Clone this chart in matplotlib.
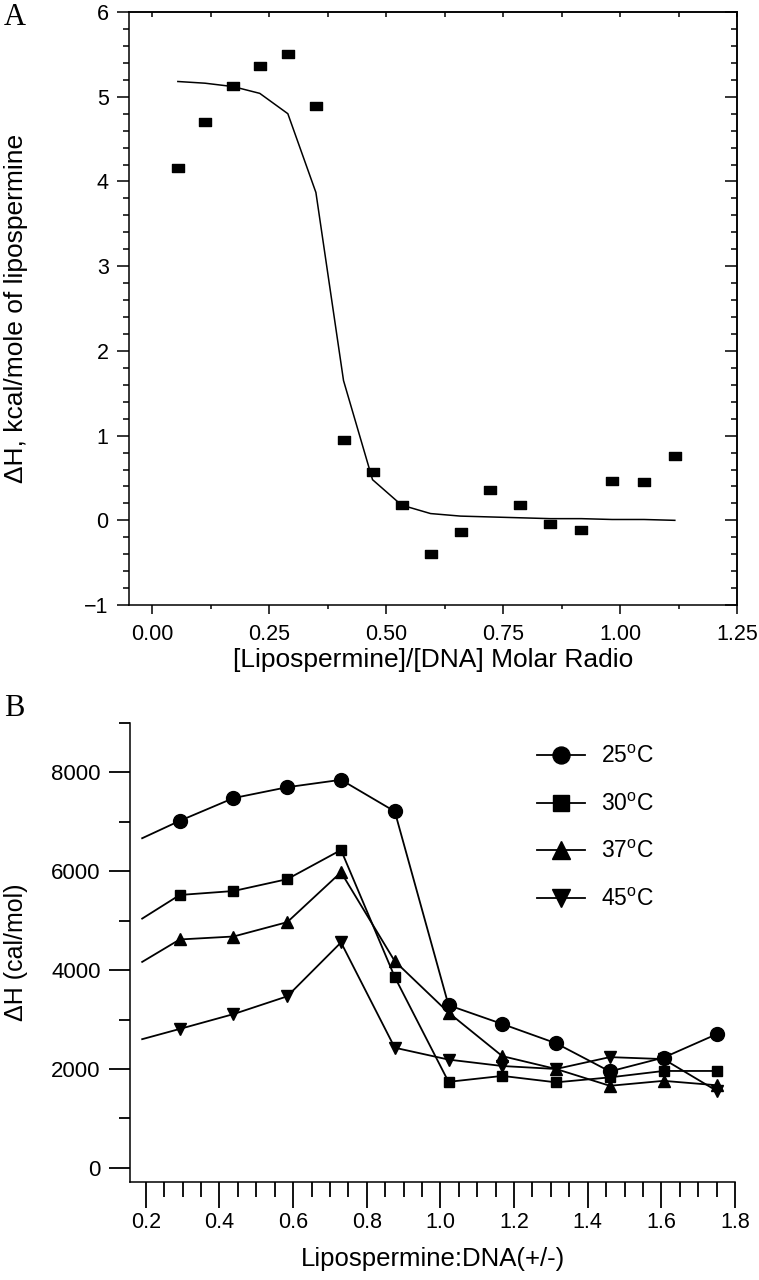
import matplotlib
matplotlib.use("Agg")
import matplotlib.pyplot as plt
from matplotlib.ticker import MultipleLocator
from matplotlib.path import Path

plt.rcParams['font.family'] = ['Liberation Sans', 'DejaVu Sans']
plt.rcParams['mathtext.fontset'] = 'custom'
plt.rcParams['mathtext.rm'] = 'Liberation Sans'
plt.rcParams['axes.linewidth'] = 1.1

# panel A - titration enthalpy per injection
ratio_a = [0.055, 0.113, 0.173, 0.230, 0.290, 0.350, 0.409, 0.471, 0.533,
           0.595, 0.659, 0.723, 0.787, 0.851, 0.917, 0.983, 1.051, 1.117]
dh_a = [4.16, 4.70, 5.13, 5.36, 5.51, 4.89, 0.95, 0.57, 0.18,
        -0.40, -0.14, 0.36, 0.18, -0.04, -0.11, 0.47, 0.45, 0.76]
fit_a = [5.18, 5.16, 5.12, 5.04, 4.80, 3.87, 1.65, 0.48, 0.18,
         0.08, 0.05, 0.04, 0.03, 0.02, 0.02, 0.01, 0.01, 0.0]

# panel B - enthalpy vs charge ratio at 4 temperatures
ratio_b = [0.19, 0.292, 0.438, 0.584, 0.730, 0.876, 1.022, 1.168, 1.314, 1.460, 1.606, 1.752]
dh_25 = [6668, 7020, 7480, 7700, 7850, 7210, 3290, 2910, 2520, 1950, 2230, 2710]
dh_30 = [5042, 5520, 5600, 5840, 6430, 3860, 1740, 1860, 1730, 1830, 1960, 1960]
dh_37 = [4166, 4620, 4680, 4970, 5980, 4180, 3140, 2260, 2000, 1660, 1760, 1670]
dh_45 = [2603, 2810, 3110, 3470, 4560, 2430, 2190, 2060, 2000, 2240, 2200, 1550]
temps = ['25', '30', '37', '45']

rect = Path([(-1, -0.6), (1, -0.6), (1, 0.6), (-1, 0.6), (-1, -0.6)],
            [Path.MOVETO, Path.LINETO, Path.LINETO, Path.LINETO, Path.CLOSEPOLY])

fig = plt.figure(figsize=(7.59, 12.8), dpi=100)

# ---------------- A ----------------
ax1 = fig.add_axes([0.1696, 0.5273, 0.8015, 0.4633])
ax1.plot(ratio_a, fit_a, color='black', lw=1.1)
ax1.plot(ratio_a, dh_a, ls='none', marker=rect, ms=9, color='black')
ax1.set_xlim(-0.05, 1.25)
ax1.set_ylim(-1, 6)
ax1.xaxis.set_major_locator(MultipleLocator(0.25))
ax1.xaxis.set_minor_locator(MultipleLocator(0.125))
ax1.yaxis.set_major_locator(MultipleLocator(1))
ax1.yaxis.set_minor_locator(MultipleLocator(0.2))
ax1.xaxis.set_major_formatter(lambda v, p: f"{v:.2f}")
ax1.tick_params(axis='x', which='major', direction='out', length=6.5, width=1.1, pad=7, labelsize=15.5)
ax1.tick_params(axis='x', which='minor', direction='out', length=3, width=1.1)
ax1.tick_params(axis='y', which='major', direction='out', length=8.4, width=1.1, pad=6, labelsize=15.5)
ax1.tick_params(axis='y', which='minor', direction='out', length=4, width=1.1)
top = ax1.secondary_xaxis('top')
top.xaxis.set_major_locator(MultipleLocator(0.125))
top.tick_params(direction='in', length=3.5, width=1.1, labeltop=False)
right = ax1.secondary_yaxis('right')
right.yaxis.set_major_locator(MultipleLocator(1))
right.yaxis.set_minor_locator(MultipleLocator(0.2))
right.tick_params(which='major', direction='in', length=8.4, width=1.1, labelright=False)
right.tick_params(which='minor', direction='in', length=4, width=1.1)
ax1.set_xlabel('[Lipospermine]/[DNA] Molar Radio', fontsize=19)
ax1.xaxis.set_label_coords(0.5, -0.072)
ax1.set_ylabel('ΔH, kcal/mole of lipospermine', fontsize=19)
ax1.yaxis.set_label_coords(-0.166, 0.5)
fig.text(0.005, 0.998, 'A', family='Liberation Serif', fontsize=22, va='top', ha='left')

# ---------------- B ----------------
ax2 = fig.add_axes([0.1713, 0.0768, 0.7971, 0.3584])
markers = ['o', 's', '^', 'v']
sizes = [10, 6.5, 9, 9]
for t, vals, m, s in zip(temps, [dh_25, dh_30, dh_37, dh_45], markers, sizes):
    ax2.plot(ratio_b, vals, color='black', lw=1.3, marker=m, ms=s,
             markevery=slice(1, None), label=t + '$^\\mathrm{o}$C')
ax2.set_xlim(0.157, 1.8)
ax2.set_ylim(-280, 9000)
ax2.spines['top'].set_visible(False)
ax2.spines['right'].set_visible(False)
ax2.xaxis.set_major_locator(MultipleLocator(0.2))
ax2.xaxis.set_minor_locator(MultipleLocator(0.05))
ax2.yaxis.set_major_locator(MultipleLocator(2000))
ax2.yaxis.set_minor_locator(MultipleLocator(1000))
ax2.xaxis.set_major_formatter(lambda v, p: f"{v:.1f}")
ax2.tick_params(axis='x', which='major', length=19, width=1.3, pad=3, labelsize=15.5)
ax2.tick_params(axis='x', which='minor', length=11, width=1.3)
ax2.tick_params(axis='y', which='major', length=15, width=1.3, pad=6, labelsize=16)
ax2.tick_params(axis='y', which='minor', length=8, width=1.3)
ax2.set_xlabel('Lipospermine:DNA(+/-)', fontsize=18.5)
ax2.xaxis.set_label_coords(0.5, -0.142)
ax2.set_ylabel('ΔH (cal/mol)', fontsize=18)
ax2.yaxis.set_label_coords(-0.169, 0.5)
leg = ax2.legend(loc='upper left', bbox_to_anchor=(0.673, 0.952), frameon=False,
                 fontsize=16.5, handlelength=2.1, handletextpad=0.7, labelspacing=1.08,
                 borderaxespad=0, borderpad=0)
for h, s in zip(leg.legend_handles, [12.2, 11.5, 13, 13]):
    h.set_markersize(s)
fig.text(0.005, 0.458, 'B', family='Liberation Serif', fontsize=22, va='top', ha='left')

fig.savefig('out.png', dpi=100)
